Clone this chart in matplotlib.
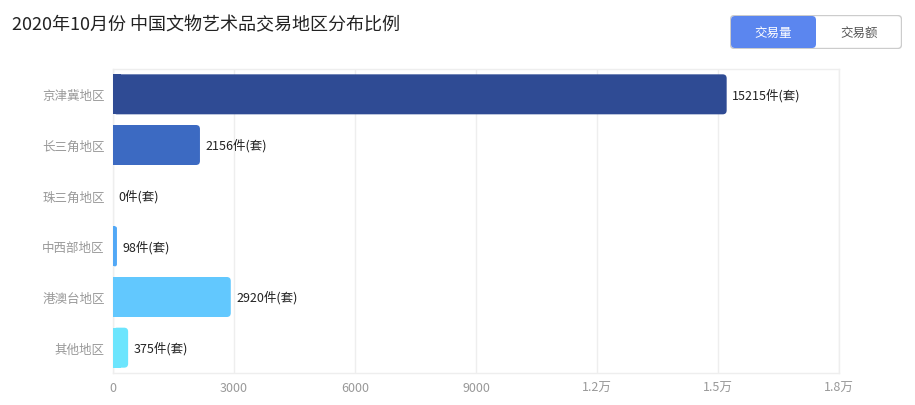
import matplotlib
matplotlib.use("Agg")
import matplotlib.pyplot as plt
from matplotlib.patches import FancyBboxPatch, Rectangle
from matplotlib.ticker import FixedLocator, FixedFormatter

plt.rcParams['font.family'] = ['Noto Sans CJK SC', 'DejaVu Sans']

categories = ["京津冀地区", "长三角地区", "珠三角地区", "中西部地区", "港澳台地区", "其他地区"]
values = [15215, 2156, 0, 98, 2920, 375]
colors = ["#2f4b94", "#3c6ac2", "#4b8fe6", "#52a8f6", "#62c8fe", "#6ce5fd"]
xticks = [0, 3000, 6000, 9000, 12000, 15000, 18000]
xticklabels = ["0", "3000", "6000", "9000", "1.2万", "1.5万", "1.8万"]
title = "2020年10月份 中国文物艺术品交易地区分布比例"
buttons = ["交易量", "交易额"]

W, H = 915, 406
fig = plt.figure(figsize=(W / 100, H / 100), dpi=100)
ax = fig.add_axes([113 / W, 1 - 374 / H, (839 - 113) / W, (374 - 70) / H])
ax.set_xlim(0, 18000)
ax.set_ylim(len(categories) - 0.5, -0.5)

# scale: px per unit
px_x = (839 - 113) / 18000
px_y = (374 - 70) / len(categories)
r_px = 4
rx = r_px / px_x
ry = r_px / px_y
bar_h = 40 / px_y

for i, (v, c) in enumerate(zip(values, colors)):
    if v <= 0:
        continue
    y0 = i - bar_h / 2
    rr = min(rx, v / 2)
    p = FancyBboxPatch((0, y0), v, bar_h,
                       boxstyle=f"round,pad=0,rounding_size={rr}",
                       mutation_aspect=ry / rx, fc=c, ec="none", zorder=3)
    ax.add_patch(p)
    ax.add_patch(Rectangle((0, y0), min(v / 2, rx * 2), bar_h, fc=c, ec="none", zorder=3))

for i, v in enumerate(values):
    ax.annotate(f"{v}件(套)", xy=(v, i), xytext=(4, 0), textcoords="offset points",
                ha="left", va="center", fontsize=9, color="#222222", zorder=4)

ax.xaxis.set_major_locator(FixedLocator(xticks))
ax.xaxis.set_major_formatter(FixedFormatter(xticklabels))
ax.set_yticks(range(len(categories)))
ax.set_yticklabels(categories)
ax.tick_params(axis="both", length=0, labelsize=9, colors="#999999")
ax.tick_params(axis="x", pad=6)
ax.tick_params(axis="y", pad=6)
ax.grid(axis="x", color="#eeeeee", lw=1, zorder=0)
ax.set_axisbelow(True)
for s in ax.spines.values():
    s.set_color("#eeeeee")
    s.set_linewidth(1)

fig.text(12 / W, 1 - 25 / H, title, fontsize=13, color="#222222", ha="left", va="center")

# toggle buttons
bax = fig.add_axes([730 / W, 1 - 50 / H, 172 / W, 34 / H])
bax.set_xlim(0, 172)
bax.set_ylim(0, 34)
bax.axis("off")
bax.add_patch(FancyBboxPatch((0.5, 0.5), 171, 33, boxstyle="round,pad=0,rounding_size=4",
                             fc="white", ec="#cccccc", lw=1))
bax.add_patch(FancyBboxPatch((1, 1), 85, 32, boxstyle="round,pad=0,rounding_size=4",
                             fc="#5b86ef", ec="none"))
bax.text(43, 17, buttons[0], ha="center", va="center", fontsize=9, color="white")
bax.text(129, 17, buttons[1], ha="center", va="center", fontsize=9, color="#555555")

fig.savefig("out.png", dpi=100, facecolor="white")
